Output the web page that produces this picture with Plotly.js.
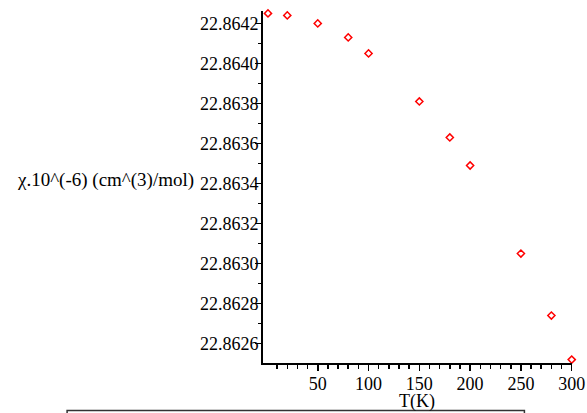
<!DOCTYPE html>
<html>
<head>
<meta charset="utf-8">
<script src="https://cdn.plot.ly/plotly-3.0.1.min.js"></script>
<style>
html,body{margin:0;padding:0;background:#fff;}
#chart{width:587px;height:413px;}
</style>
</head>
<body>
<div id="chart"></div>
<script>
const temperatureK = [1, 20, 50, 80, 100, 150, 180, 200, 250, 280, 300];
const chi = [22.86425, 22.86424, 22.8642, 22.86413, 22.86405, 22.86381, 22.86363, 22.86349, 22.86305, 22.86274, 22.86252];
const xTickVals = [50, 100, 150, 200, 250, 300];
const xMinorVals = [10, 20, 30, 40, 60, 70, 80, 90, 110, 120, 130, 140, 160, 170, 180, 190, 210, 220, 230, 240, 260, 270, 280, 290];
const xTitle = "T(K)";
const yTitle = "χ.10^(-6) (cm^(3)/mol)";

const FAM = "Times New Roman";

const trace = {
  x: temperatureK,
  y: chi,
  type: "scatter",
  mode: "markers",
  marker: {symbol: "diamond-open", size: 5.5, color: "#ff0000", line: {width: 1.5, color: "#ff0000"}},
  cliponaxis: false,
  showlegend: false
};

const layout = {
  width: 587,
  height: 413,
  margin: {l: 263, r: 15, t: 11, b: 50, pad: 0},
  paper_bgcolor: "#fff",
  plot_bgcolor: "#fff",
  showlegend: false,
  font: {family: FAM, color: "#000"},
  xaxis: {
    range: [-3.9, 300.3],
    showgrid: false, zeroline: false,
    showline: true, linecolor: "#000", linewidth: 2,
    ticks: "outside", ticklen: 6, tickwidth: 1.5, tickcolor: "#000",
    tickmode: "array", tickvals: xTickVals,
    tickfont: {family: FAM, size: 18, color: "#000"},
    ticklabelstandoff: -3,
    minor: {tickmode: "array", tickvals: xMinorVals, ticks: "outside", ticklen: 3.5, tickwidth: 1.5, tickcolor: "#000", showgrid: false}
  },
  yaxis: {
    range: [22.862503, 22.864262],
    showgrid: false, zeroline: false,
    showline: true, linecolor: "#000", linewidth: 2,
    ticks: "outside", ticklen: 6, tickwidth: 1.5, tickcolor: "#000",
    tickmode: "linear", tick0: 22.8626, dtick: 0.0002,
    tickformat: ".4f",
    tickfont: {family: FAM, size: 18, color: "#000"},
    ticklabelstandoff: -7,
    minor: {dtick: 0.0001, tick0: 22.8626, ticks: "outside", ticklen: 3.5, tickwidth: 1.5, tickcolor: "#000", showgrid: false}
  },
  annotations: [
    {text: yTitle, xref: "paper", yref: "paper", x: -0.8026, y: 0.5185, xanchor: "left", yanchor: "middle",
     showarrow: false, font: {family: FAM, size: 19, color: "#000"}},
    {text: xTitle, xref: "paper", yref: "paper", x: 0.497, y: -0.11, xanchor: "center", yanchor: "middle",
     showarrow: false, font: {family: FAM, size: 18, color: "#000"}}
  ],
  shapes: [
    {type: "rect", xref: "paper", yref: "paper", x0: -0.634, x1: 0.846, y0: -0.135, y1: -0.17,
     line: {color: "#333", width: 1.5}, fillcolor: "rgba(0,0,0,0)"}
  ]
};

Plotly.newPlot("chart", [trace], layout, {displayModeBar: false, staticPlot: true});
</script>
</body>
</html>
